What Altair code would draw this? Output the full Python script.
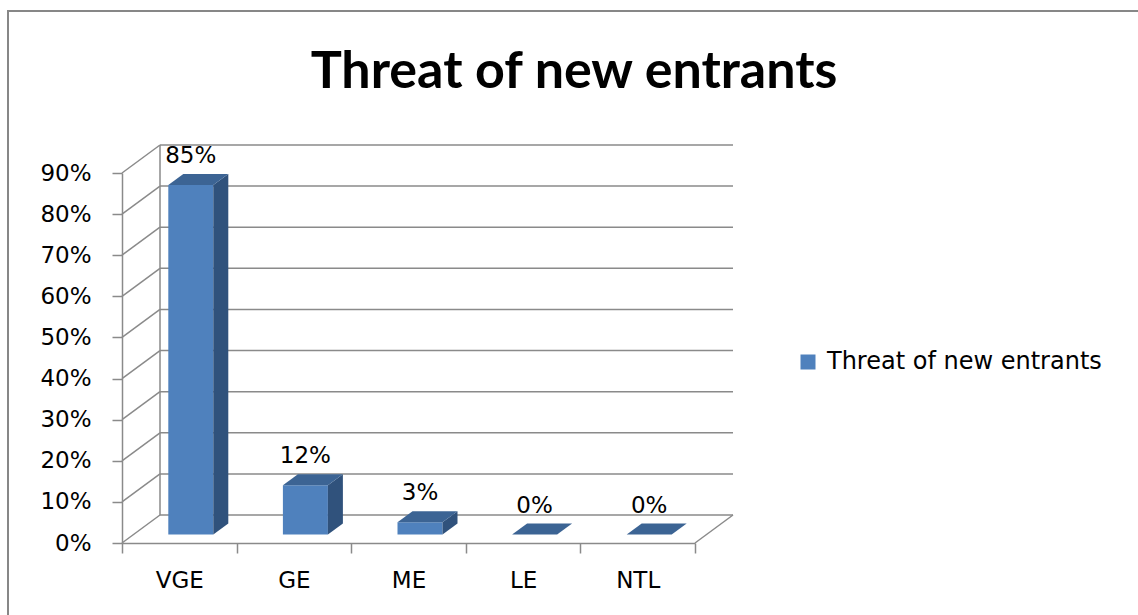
import altair as alt
import pandas as pd

# ---- data -------------------------------------------------------------
CATEGORIES = ["VGE", "GE", "ME", "LE", "NTL"]
VALUES = [0.85, 0.12, 0.03, 0.00, 0.00]
SERIES = "Threat of new entrants"
TITLE = "Threat of new entrants"
Y_TICKS = [0.0, 0.1, 0.2, 0.3, 0.4, 0.5, 0.6, 0.7, 0.8, 0.9]

# ---- geometry / style -------------------------------------------------
W, H = 573, 370            # front plane of the plot
Y_MAX = 0.9
N = len(CATEGORIES)
UX = N / W                 # data units per pixel (x)
UY = Y_MAX / H             # data units per pixel (y)

WALL_DX, WALL_DY = 38, -28     # depth of back wall / floor (px)
SHIFT_DX, SHIFT_DY = 11.5, -8.5  # bars sit a little into the floor
BAR_W = 45                     # bar width (px)
BAR_DX, BAR_DY = 15, 11        # bar depth (px right, px up)

BLUE = "#4F81BD"
SIDE = "#30527C"
TOP = "#3C6494"
GRID = "#8A8A8A"
FONT = "DejaVu Sans"

XS = alt.Scale(domain=[0, N], nice=False, zero=False)
YS = alt.Scale(domain=[0, Y_MAX], nice=False, zero=False)

yaxis = alt.Axis(
    values=Y_TICKS, format=".0%", title=None, grid=False,
    domainColor=GRID, domainWidth=1.5, tickColor=GRID, tickWidth=1.5,
    tickSize=10, labelPadding=21, labelFont=FONT, labelFontSize=23,
    labelColor="#000",
)
xaxis = alt.Axis(
    title=None, tickBand="extent", grid=False, labelAngle=0,
    domainColor=GRID, domainWidth=1.5, tickColor=GRID, tickWidth=1.5,
    tickSize=10, labelPadding=16, labelFont=FONT, labelFontSize=23,
    labelColor="#000",
)

# ---- tables built from the arrays above -------------------------------
ticks = pd.DataFrame({"t": Y_TICKS, "x0": 0.0, "x1": float(N)})

bars = pd.DataFrame({"name": CATEGORIES, "value": VALUES, "series": SERIES})
bars["cx"] = [i + 0.5 for i in range(N)]
bars["l"] = bars["cx"] - BAR_W / 2 * UX
bars["r"] = bars["cx"] + BAR_W / 2 * UX
bars["zero"] = 0.0

side_rows, top_rows = [], []
for name, v, l, r in zip(bars["name"], bars["value"], bars["l"], bars["r"]):
    # right-hand face: vertical parallelogram
    side_rows.append({"name": name, "x": r, "top": v, "bot": 0.0})
    side_rows.append({"name": name, "x": r + BAR_DX * UX,
                      "top": v + BAR_DY * UY, "bot": BAR_DY * UY})
    # top face: horizontal parallelogram
    top_rows.append({"name": name, "y": v, "xl": l, "xr": r})
    top_rows.append({"name": name, "y": v + BAR_DY * UY,
                     "xl": l + BAR_DX * UX, "xr": r + BAR_DX * UX})
side = pd.DataFrame(side_rows)
top = pd.DataFrame(top_rows)

corner = pd.DataFrame({"x0": [0.0], "x1": [float(N)], "y0": [0.0], "y1": [Y_MAX]})

# ---- walls ------------------------------------------------------------
back_grid = alt.Chart(ticks).mark_rule(
    color=GRID, strokeWidth=1.5,
    xOffset=WALL_DX, x2Offset=WALL_DX, yOffset=WALL_DY,
).encode(
    x=alt.X("x0:Q", scale=XS, axis=None), x2="x1:Q",
    y=alt.Y("t:Q", scale=YS, axis=yaxis),
)

side_grid = alt.Chart(ticks).mark_rule(
    color=GRID, strokeWidth=1.5, x2Offset=WALL_DX, y2Offset=WALL_DY,
).encode(
    x=alt.X("x0:Q", scale=XS, axis=None), x2="x0:Q",
    y=alt.Y("t:Q", scale=YS, axis=yaxis), y2="t:Q",
)

back_edge = alt.Chart(corner).mark_rule(
    color=GRID, strokeWidth=1.5,
    xOffset=WALL_DX, yOffset=WALL_DY, y2Offset=WALL_DY,
).encode(
    x=alt.X("x0:Q", scale=XS, axis=None),
    y=alt.Y("y0:Q", scale=YS, axis=yaxis), y2="y1:Q",
)

floor_edge = alt.Chart(corner).mark_rule(
    color=GRID, strokeWidth=1.5, x2Offset=WALL_DX, y2Offset=WALL_DY,
).encode(
    x=alt.X("x1:Q", scale=XS, axis=None), x2="x1:Q",
    y=alt.Y("y0:Q", scale=YS, axis=yaxis), y2="y0:Q",
)

# ---- bars -------------------------------------------------------------
front = alt.Chart(bars).mark_rect(
    xOffset=SHIFT_DX, x2Offset=SHIFT_DX, yOffset=SHIFT_DY, y2Offset=SHIFT_DY,
).encode(
    x=alt.X("l:Q", scale=XS, axis=None), x2="r:Q",
    y=alt.Y("value:Q", scale=YS, axis=yaxis), y2="zero:Q",
    color=alt.Color(
        "series:N", scale=alt.Scale(range=[BLUE]),
        legend=alt.Legend(
            title=None, orient="none", legendX=674, legendY=177,
            symbolType="square", symbolSize=225, symbolStrokeWidth=0,
            labelFont=FONT, labelFontSize=24, labelColor="#000",
            labelOffset=7, labelLimit=0, padding=0,
        ),
    ),
)

side_face = alt.Chart(side).mark_area(
    color=SIDE, orient="vertical",
    xOffset=SHIFT_DX, x2Offset=SHIFT_DX, yOffset=SHIFT_DY, y2Offset=SHIFT_DY,
).encode(
    x=alt.X("x:Q", scale=XS, axis=None),
    y=alt.Y("top:Q", scale=YS, axis=yaxis), y2="bot:Q",
    detail="name:N",
)

top_face = alt.Chart(top).mark_area(
    color=TOP, orient="horizontal",
    xOffset=SHIFT_DX, x2Offset=SHIFT_DX, yOffset=SHIFT_DY, y2Offset=SHIFT_DY,
).encode(
    y=alt.Y("y:Q", scale=YS, axis=yaxis),
    x=alt.X("xl:Q", scale=XS, axis=None), x2="xr:Q",
    detail="name:N",
)

# value labels (this layer also carries the category axis)
labels = alt.Chart(bars).mark_text(
    font=FONT, fontSize=23, color="#000", baseline="middle",
    xOffset=SHIFT_DX, yOffset=SHIFT_DY - 29,
).encode(
    x=alt.X("name:N", sort=CATEGORIES,
            scale=alt.Scale(paddingInner=0, paddingOuter=0), axis=xaxis),
    y=alt.Y("value:Q", scale=YS, axis=yaxis),
    text=alt.Text("value:Q", format=".0%"),
)

# chart title
title = alt.Chart(corner).mark_text(
    text=TITLE, font="Lato", fontSize=52, fontWeight="bold", color="#000",
    align="center", baseline="alphabetic",
).encode(x=alt.value(574 - 122), y=alt.value(88 - 173))

# outer chart border
frame = alt.Chart(corner).mark_rect(
    fillOpacity=0, stroke="#878787", strokeWidth=2,
).encode(
    x=alt.value(8 - 122), y=alt.value(11 - 173),
    x2=alt.value(1400), y2=alt.value(900),
)

chart = alt.layer(
    frame, title, back_grid, side_grid, back_edge, floor_edge,
    front, side_face, top_face, labels,
).resolve_scale(x="independent").properties(
    width=W, height=H,
    autosize="none",
    padding={"left": 122, "top": 173, "right": 443, "bottom": 72},
).configure_view(stroke=None)

chart.save("out.html", embed_options={"renderer": "svg", "actions": False})
